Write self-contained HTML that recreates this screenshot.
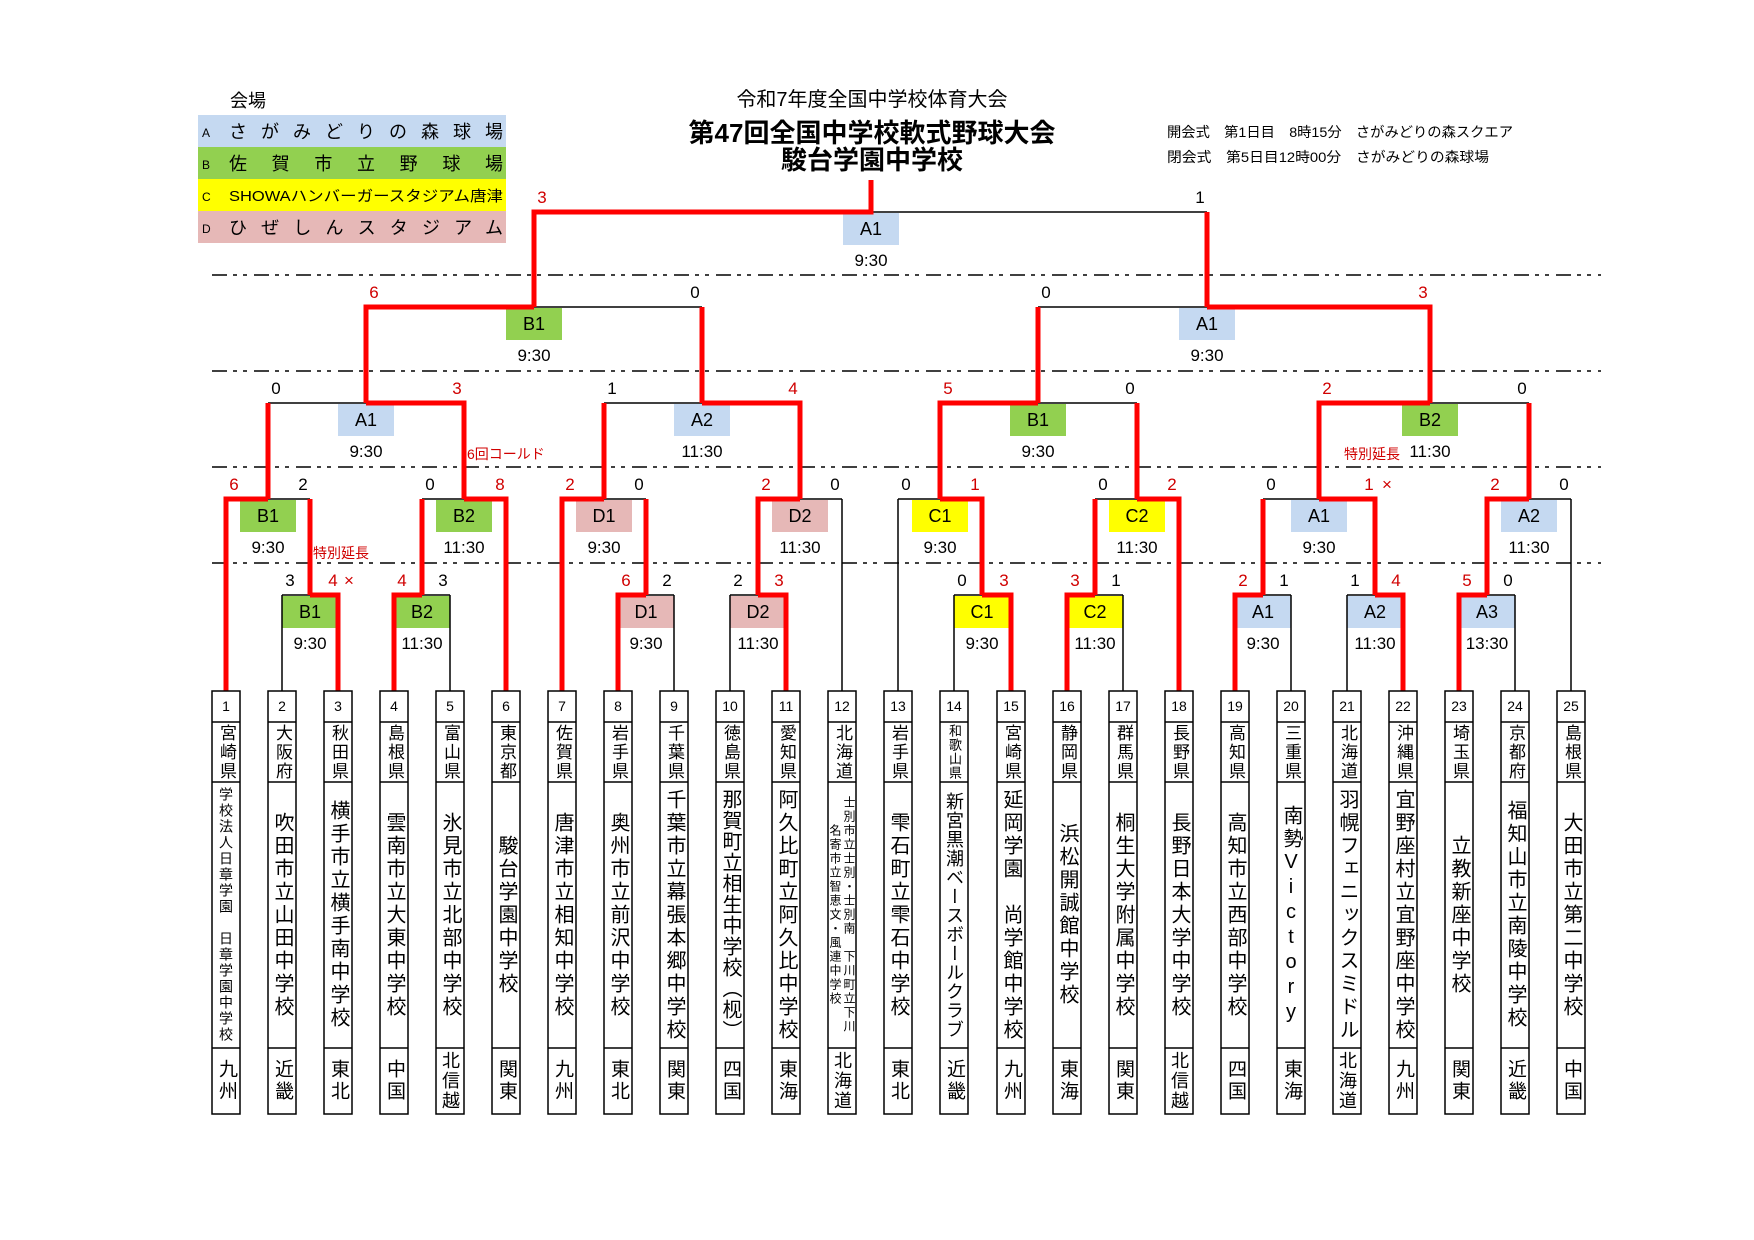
<!DOCTYPE html>
<html><head><meta charset="utf-8">
<style>
body{margin:0;background:#fff;}
#w{position:relative;width:1754px;height:1240px;overflow:hidden;background:#fff;font-family:"Liberation Sans","Noto Sans CJK JP",sans-serif;}
svg{position:absolute;left:0;top:0;}
.v{position:absolute;width:28px;writing-mode:vertical-rl;text-orientation:upright;text-align:center;line-height:28px;color:#000;white-space:nowrap;}
.p{top:722px;height:60px;font-size:17px;letter-spacing:2px;}
.s{top:782px;height:266px;font-size:20px;letter-spacing:3px;}
.r{top:1048px;height:66px;font-size:19px;letter-spacing:3px;}
.n{position:absolute;top:691px;height:31px;width:28px;line-height:31px;text-align:center;font-size:14px;}
</style></head><body><div id="w">
<svg width="1754" height="1240" viewBox="0 0 1754 1240" font-family="Liberation Sans, Noto Sans CJK JP, sans-serif">
<!-- legend -->
<text x="230" y="107" font-size="18">会場</text>
<rect x="198" y="115" width="308" height="32" fill="#c5d9f1"/>
<rect x="198" y="147" width="308" height="32" fill="#92d050"/>
<rect x="198" y="179" width="308" height="32" fill="#ffff00"/>
<rect x="198" y="211" width="308" height="32" fill="#e6b8b7"/>
<g font-size="12"><text x="202" y="137">A</text><text x="202" y="169">B</text><text x="202" y="201">C</text><text x="202" y="233">D</text></g>
<g font-size="18">
<text x="229" y="138" textLength="274" lengthAdjust="spacing">さがみどりの森球場</text>
<text x="229" y="170" textLength="274" lengthAdjust="spacing">佐賀市立野球場</text>
<text x="229" y="201" font-size="15" textLength="274" lengthAdjust="spacingAndGlyphs">SHOWAハンバーガースタジアム唐津</text>
<text x="229" y="234" textLength="274" lengthAdjust="spacing">ひぜしんスタジアム</text>
</g>
<!-- titles -->
<text x="872" y="106" font-size="20" text-anchor="middle">令和7年度全国中学校体育大会</text>
<text x="872" y="142" font-size="26" font-weight="bold" text-anchor="middle">第47回全国中学校軟式野球大会</text>
<text x="872" y="169" font-size="26" font-weight="bold" text-anchor="middle">駿台学園中学校</text>
<text x="1167" y="137" font-size="14" textLength="346" lengthAdjust="spacingAndGlyphs">開会式　第1日目　8時15分　さがみどりの森スクエア</text>
<text x="1167" y="162" font-size="14" textLength="322" lengthAdjust="spacingAndGlyphs">閉会式　第5日目12時00分　さがみどりの森球場</text>
<!-- dashed -->
<g stroke="#000" stroke-width="1.5" stroke-dasharray="15 6 4 6 4 7">
<line x1="212" y1="275" x2="1601" y2="275"/><line x1="212" y1="371" x2="1601" y2="371"/>
<line x1="212" y1="467" x2="1601" y2="467"/><line x1="212" y1="563" x2="1601" y2="563"/>
</g>
<!-- boxes -->
<g>
<rect x="282" y="596" width="56" height="32" fill="#92d050"/>
<rect x="394" y="596" width="56" height="32" fill="#92d050"/>
<rect x="618" y="596" width="56" height="32" fill="#e6b8b7"/>
<rect x="730" y="596" width="56" height="32" fill="#e6b8b7"/>
<rect x="954" y="596" width="56" height="32" fill="#ffff00"/>
<rect x="1067" y="596" width="56" height="32" fill="#ffff00"/>
<rect x="1235" y="596" width="56" height="32" fill="#c5d9f1"/>
<rect x="1347" y="596" width="56" height="32" fill="#c5d9f1"/>
<rect x="1459" y="596" width="56" height="32" fill="#c5d9f1"/>
<rect x="240" y="500" width="56" height="32" fill="#92d050"/>
<rect x="436" y="500" width="56" height="32" fill="#92d050"/>
<rect x="576" y="500" width="56" height="32" fill="#e6b8b7"/>
<rect x="772" y="500" width="56" height="32" fill="#e6b8b7"/>
<rect x="912" y="500" width="56" height="32" fill="#ffff00"/>
<rect x="1109" y="500" width="56" height="32" fill="#ffff00"/>
<rect x="1291" y="500" width="56" height="32" fill="#c5d9f1"/>
<rect x="1501" y="500" width="56" height="32" fill="#c5d9f1"/>
<rect x="338" y="404" width="56" height="32" fill="#c5d9f1"/>
<rect x="674" y="404" width="56" height="32" fill="#c5d9f1"/>
<rect x="1010" y="404" width="56" height="32" fill="#92d050"/>
<rect x="1402" y="404" width="56" height="32" fill="#92d050"/>
<rect x="506" y="308" width="56" height="32" fill="#92d050"/>
<rect x="1179" y="308" width="56" height="32" fill="#c5d9f1"/>
<rect x="843" y="213" width="56" height="32" fill="#c5d9f1"/>
</g>
<g font-size="18" text-anchor="middle">
<text x="310" y="618">B1</text><text x="422" y="618">B2</text><text x="646" y="618">D1</text><text x="758" y="618">D2</text>
<text x="982" y="618">C1</text><text x="1095" y="618">C2</text><text x="1263" y="618">A1</text><text x="1375" y="618">A2</text><text x="1487" y="618">A3</text>
<text x="268" y="522">B1</text><text x="464" y="522">B2</text><text x="604" y="522">D1</text><text x="800" y="522">D2</text>
<text x="940" y="522">C1</text><text x="1137" y="522">C2</text><text x="1319" y="522">A1</text><text x="1529" y="522">A2</text>
<text x="366" y="426">A1</text><text x="702" y="426">A2</text><text x="1038" y="426">B1</text><text x="1430" y="426">B2</text>
<text x="534" y="330">B1</text><text x="1207" y="330">A1</text>
<text x="871" y="235">A1</text>
</g>
<g font-size="17" text-anchor="middle">
<text x="310" y="649">9:30</text><text x="422" y="649">11:30</text><text x="646" y="649">9:30</text><text x="758" y="649">11:30</text>
<text x="982" y="649">9:30</text><text x="1095" y="649">11:30</text><text x="1263" y="649">9:30</text><text x="1375" y="649">11:30</text><text x="1487" y="649">13:30</text>
<text x="268" y="553">9:30</text><text x="464" y="553">11:30</text><text x="604" y="553">9:30</text><text x="800" y="553">11:30</text>
<text x="940" y="553">9:30</text><text x="1137" y="553">11:30</text><text x="1319" y="553">9:30</text><text x="1529" y="553">11:30</text>
<text x="366" y="457">9:30</text><text x="702" y="457">11:30</text><text x="1038" y="457">9:30</text><text x="1430" y="457">11:30</text>
<text x="534" y="361">9:30</text><text x="1207" y="361">9:30</text>
<text x="871" y="266">9:30</text>
</g>
<g font-size="14" fill="#d00000">
<text x="313" y="558">特別延長</text>
<text x="467" y="459">6回コールド</text>
<text x="1344" y="459">特別延長</text>
</g>
<!-- black lines -->
<g stroke="#000" stroke-width="1.5" fill="none">
<path d="M282 595H338M394 595H450M618 595H674M730 595H786M954 595H1011M1067 595H1123M1235 595H1291M1347 595H1403M1459 595H1515"/>
<path d="M282 691V595M450 691V595M674 691V595M730 691V595M954 691V595M1123 691V595M1291 691V595M1347 691V595M1515 691V595"/>
<path d="M226 499H310M422 499H506M562 499H646M758 499H842M898 499H982M1095 499H1179M1263 499H1375M1487 499H1571"/>
<path d="M842 691V499M898 691V499M1571 691V499"/>
<path d="M268 403H464M604 403H800M940 403H1137M1319 403H1529"/>
<path d="M366 307H702M1038 307H1430M534 212H1207"/>
</g>
<!-- red lines -->
<g stroke="#ff0000" stroke-width="5" fill="none" stroke-linejoin="miter">
<path d="M338 691V595H310M394 691V595H422M618 691V595H646M786 691V595H758M1011 691V595H982M1067 691V595H1095M1235 691V595H1263M1403 691V595H1375M1459 691V595H1487"/>
<path d="M226 691V499H268M506 691V499H464M562 691V499H604M1179 691V499H1137"/>
<path d="M310 595V499M422 595V499M646 595V499M758 595V499H800M982 595V499H940M1095 595V499M1263 595V499M1375 595V499H1319M1487 595V499H1529"/>
<path d="M268 499V403M464 499V403H366M604 499V403M800 499V403H702M940 499V403H1038M1137 499V403M1319 499V403H1430M1529 499V403"/>
<path d="M366 403V307H534M702 403V307M1038 403V307M1430 403V307H1207"/>
<path d="M534 307V212H871V180M1207 307V212"/>
</g>
<!-- scores -->
<g font-size="17" text-anchor="middle">
<text x="290" y="586">3</text><text x="333" y="586" fill="#d00000">4</text><text x="349" y="586" fill="#d00000">×</text>
<text x="402" y="586" fill="#d00000">4</text><text x="443" y="586">3</text>
<text x="626" y="586" fill="#d00000">6</text><text x="667" y="586">2</text>
<text x="738" y="586">2</text><text x="779" y="586" fill="#d00000">3</text>
<text x="962" y="586">0</text><text x="1004" y="586" fill="#d00000">3</text>
<text x="1075" y="586" fill="#d00000">3</text><text x="1116" y="586">1</text>
<text x="1243" y="586" fill="#d00000">2</text><text x="1284" y="586">1</text>
<text x="1355" y="586">1</text><text x="1396" y="586" fill="#d00000">4</text>
<text x="1467" y="586" fill="#d00000">5</text><text x="1508" y="586">0</text>
<text x="234" y="490" fill="#d00000">6</text><text x="303" y="490">2</text>
<text x="430" y="490">0</text><text x="500" y="490" fill="#d00000">8</text>
<text x="570" y="490" fill="#d00000">2</text><text x="639" y="490">0</text>
<text x="766" y="490" fill="#d00000">2</text><text x="835" y="490">0</text>
<text x="906" y="490">0</text><text x="975" y="490" fill="#d00000">1</text>
<text x="1103" y="490">0</text><text x="1172" y="490" fill="#d00000">2</text>
<text x="1271" y="490">0</text><text x="1369" y="490" fill="#d00000">1</text><text x="1387" y="490" fill="#d00000">×</text>
<text x="1495" y="490" fill="#d00000">2</text><text x="1564" y="490">0</text>
<text x="276" y="394">0</text><text x="457" y="394" fill="#d00000">3</text>
<text x="612" y="394">1</text><text x="793" y="394" fill="#d00000">4</text>
<text x="948" y="394" fill="#d00000">5</text><text x="1130" y="394">0</text>
<text x="1327" y="394" fill="#d00000">2</text><text x="1522" y="394">0</text>
<text x="374" y="298" fill="#d00000">6</text><text x="695" y="298">0</text>
<text x="1046" y="298">0</text><text x="1423" y="298" fill="#d00000">3</text>
<text x="542" y="203" fill="#d00000">3</text><text x="1200" y="203">1</text>
</g>
<!-- team boxes -->
<g stroke="#000" stroke-width="1.5" fill="none">
<path id="tb" d="M212 691h28v423h-28zM212 722h28M212 782h28M212 1048h28"/>
<use href="#tb" x="56"/><use href="#tb" x="112"/><use href="#tb" x="168"/><use href="#tb" x="224"/><use href="#tb" x="280"/>
<use href="#tb" x="336"/><use href="#tb" x="392"/><use href="#tb" x="448"/><use href="#tb" x="504"/><use href="#tb" x="560"/>
<use href="#tb" x="616"/><use href="#tb" x="672"/><use href="#tb" x="728"/><use href="#tb" x="785"/><use href="#tb" x="841"/>
<use href="#tb" x="897"/><use href="#tb" x="953"/><use href="#tb" x="1009"/><use href="#tb" x="1065"/><use href="#tb" x="1121"/>
<use href="#tb" x="1177"/><use href="#tb" x="1233"/><use href="#tb" x="1289"/><use href="#tb" x="1345"/>
</g>
</svg>

<div class="n" style="left:212px">1</div><div class="v p" style="left:212px">宮崎県</div><div class="v s" style="left:212px;font-size:14px;letter-spacing:2px">学校法人日章学園　日章学園中学校</div><div class="v r" style="left:212px">九州</div>
<div class="n" style="left:268px">2</div><div class="v p" style="left:268px">大阪府</div><div class="v s" style="left:268px">吹田市立山田中学校</div><div class="v r" style="left:268px">近畿</div>
<div class="n" style="left:324px">3</div><div class="v p" style="left:324px">秋田県</div><div class="v s" style="left:324px">横手市立横手南中学校</div><div class="v r" style="left:324px">東北</div>
<div class="n" style="left:380px">4</div><div class="v p" style="left:380px">島根県</div><div class="v s" style="left:380px">雲南市立大東中学校</div><div class="v r" style="left:380px">中国</div>
<div class="n" style="left:436px">5</div><div class="v p" style="left:436px">富山県</div><div class="v s" style="left:436px">氷見市立北部中学校</div><div class="v r" style="left:436px;font-size:18px;letter-spacing:2px">北信越</div>
<div class="n" style="left:492px">6</div><div class="v p" style="left:492px">東京都</div><div class="v s" style="left:492px">駿台学園中学校</div><div class="v r" style="left:492px">関東</div>
<div class="n" style="left:548px">7</div><div class="v p" style="left:548px">佐賀県</div><div class="v s" style="left:548px">唐津市立相知中学校</div><div class="v r" style="left:548px">九州</div>
<div class="n" style="left:604px">8</div><div class="v p" style="left:604px">岩手県</div><div class="v s" style="left:604px">奥州市立前沢中学校</div><div class="v r" style="left:604px">東北</div>
<div class="n" style="left:660px">9</div><div class="v p" style="left:660px">千葉県</div><div class="v s" style="left:660px">千葉市立幕張本郷中学校</div><div class="v r" style="left:660px">関東</div>
<div class="n" style="left:716px">10</div><div class="v p" style="left:716px">徳島県</div><div class="v s" style="left:716px;letter-spacing:1px">那賀町立相生中学校（枧）</div><div class="v r" style="left:716px">四国</div>
<div class="n" style="left:772px">11</div><div class="v p" style="left:772px">愛知県</div><div class="v s" style="left:772px">阿久比町立阿久比中学校</div><div class="v r" style="left:772px">東海</div>
<div class="n" style="left:828px">12</div><div class="v p" style="left:828px">北海道</div><div class="v s" style="left:828px;font-size:12px;letter-spacing:2px;line-height:14px;white-space:normal">士別市立士別・士別南　下川町立下川<br>名寄市立智恵文・風連中学校</div><div class="v r" style="left:828px;font-size:18px;letter-spacing:2px">北海道</div>
<div class="n" style="left:884px">13</div><div class="v p" style="left:884px">岩手県</div><div class="v s" style="left:884px">雫石町立雫石中学校</div><div class="v r" style="left:884px">東北</div>
<div class="n" style="left:940px">14</div><div class="v p" style="left:940px;font-size:13px;letter-spacing:1px">和歌山県</div><div class="v s" style="left:940px;font-size:18px;letter-spacing:1px">新宮黒潮ベースボールクラブ</div><div class="v r" style="left:940px">近畿</div>
<div class="n" style="left:997px">15</div><div class="v p" style="left:997px">宮崎県</div><div class="v s" style="left:997px">延岡学園　尚学館中学校</div><div class="v r" style="left:997px">九州</div>
<div class="n" style="left:1053px">16</div><div class="v p" style="left:1053px">静岡県</div><div class="v s" style="left:1053px">浜松開誠館中学校</div><div class="v r" style="left:1053px">東海</div>
<div class="n" style="left:1109px">17</div><div class="v p" style="left:1109px">群馬県</div><div class="v s" style="left:1109px">桐生大学附属中学校</div><div class="v r" style="left:1109px">関東</div>
<div class="n" style="left:1165px">18</div><div class="v p" style="left:1165px">長野県</div><div class="v s" style="left:1165px">長野日本大学中学校</div><div class="v r" style="left:1165px;font-size:18px;letter-spacing:2px">北信越</div>
<div class="n" style="left:1221px">19</div><div class="v p" style="left:1221px">高知県</div><div class="v s" style="left:1221px">高知市立西部中学校</div><div class="v r" style="left:1221px">四国</div>
<div class="n" style="left:1277px">20</div><div class="v p" style="left:1277px">三重県</div><div class="v s" style="left:1277px">南勢Victory</div><div class="v r" style="left:1277px">東海</div>
<div class="n" style="left:1333px">21</div><div class="v p" style="left:1333px">北海道</div><div class="v s" style="left:1333px">羽幌フェニックスミドル</div><div class="v r" style="left:1333px;font-size:18px;letter-spacing:2px">北海道</div>
<div class="n" style="left:1389px">22</div><div class="v p" style="left:1389px">沖縄県</div><div class="v s" style="left:1389px">宜野座村立宜野座中学校</div><div class="v r" style="left:1389px">九州</div>
<div class="n" style="left:1445px">23</div><div class="v p" style="left:1445px">埼玉県</div><div class="v s" style="left:1445px">立教新座中学校</div><div class="v r" style="left:1445px">関東</div>
<div class="n" style="left:1501px">24</div><div class="v p" style="left:1501px">京都府</div><div class="v s" style="left:1501px">福知山市立南陵中学校</div><div class="v r" style="left:1501px">近畿</div>
<div class="n" style="left:1557px">25</div><div class="v p" style="left:1557px">島根県</div><div class="v s" style="left:1557px">大田市立第二中学校</div><div class="v r" style="left:1557px">中国</div>
</div></body></html>
